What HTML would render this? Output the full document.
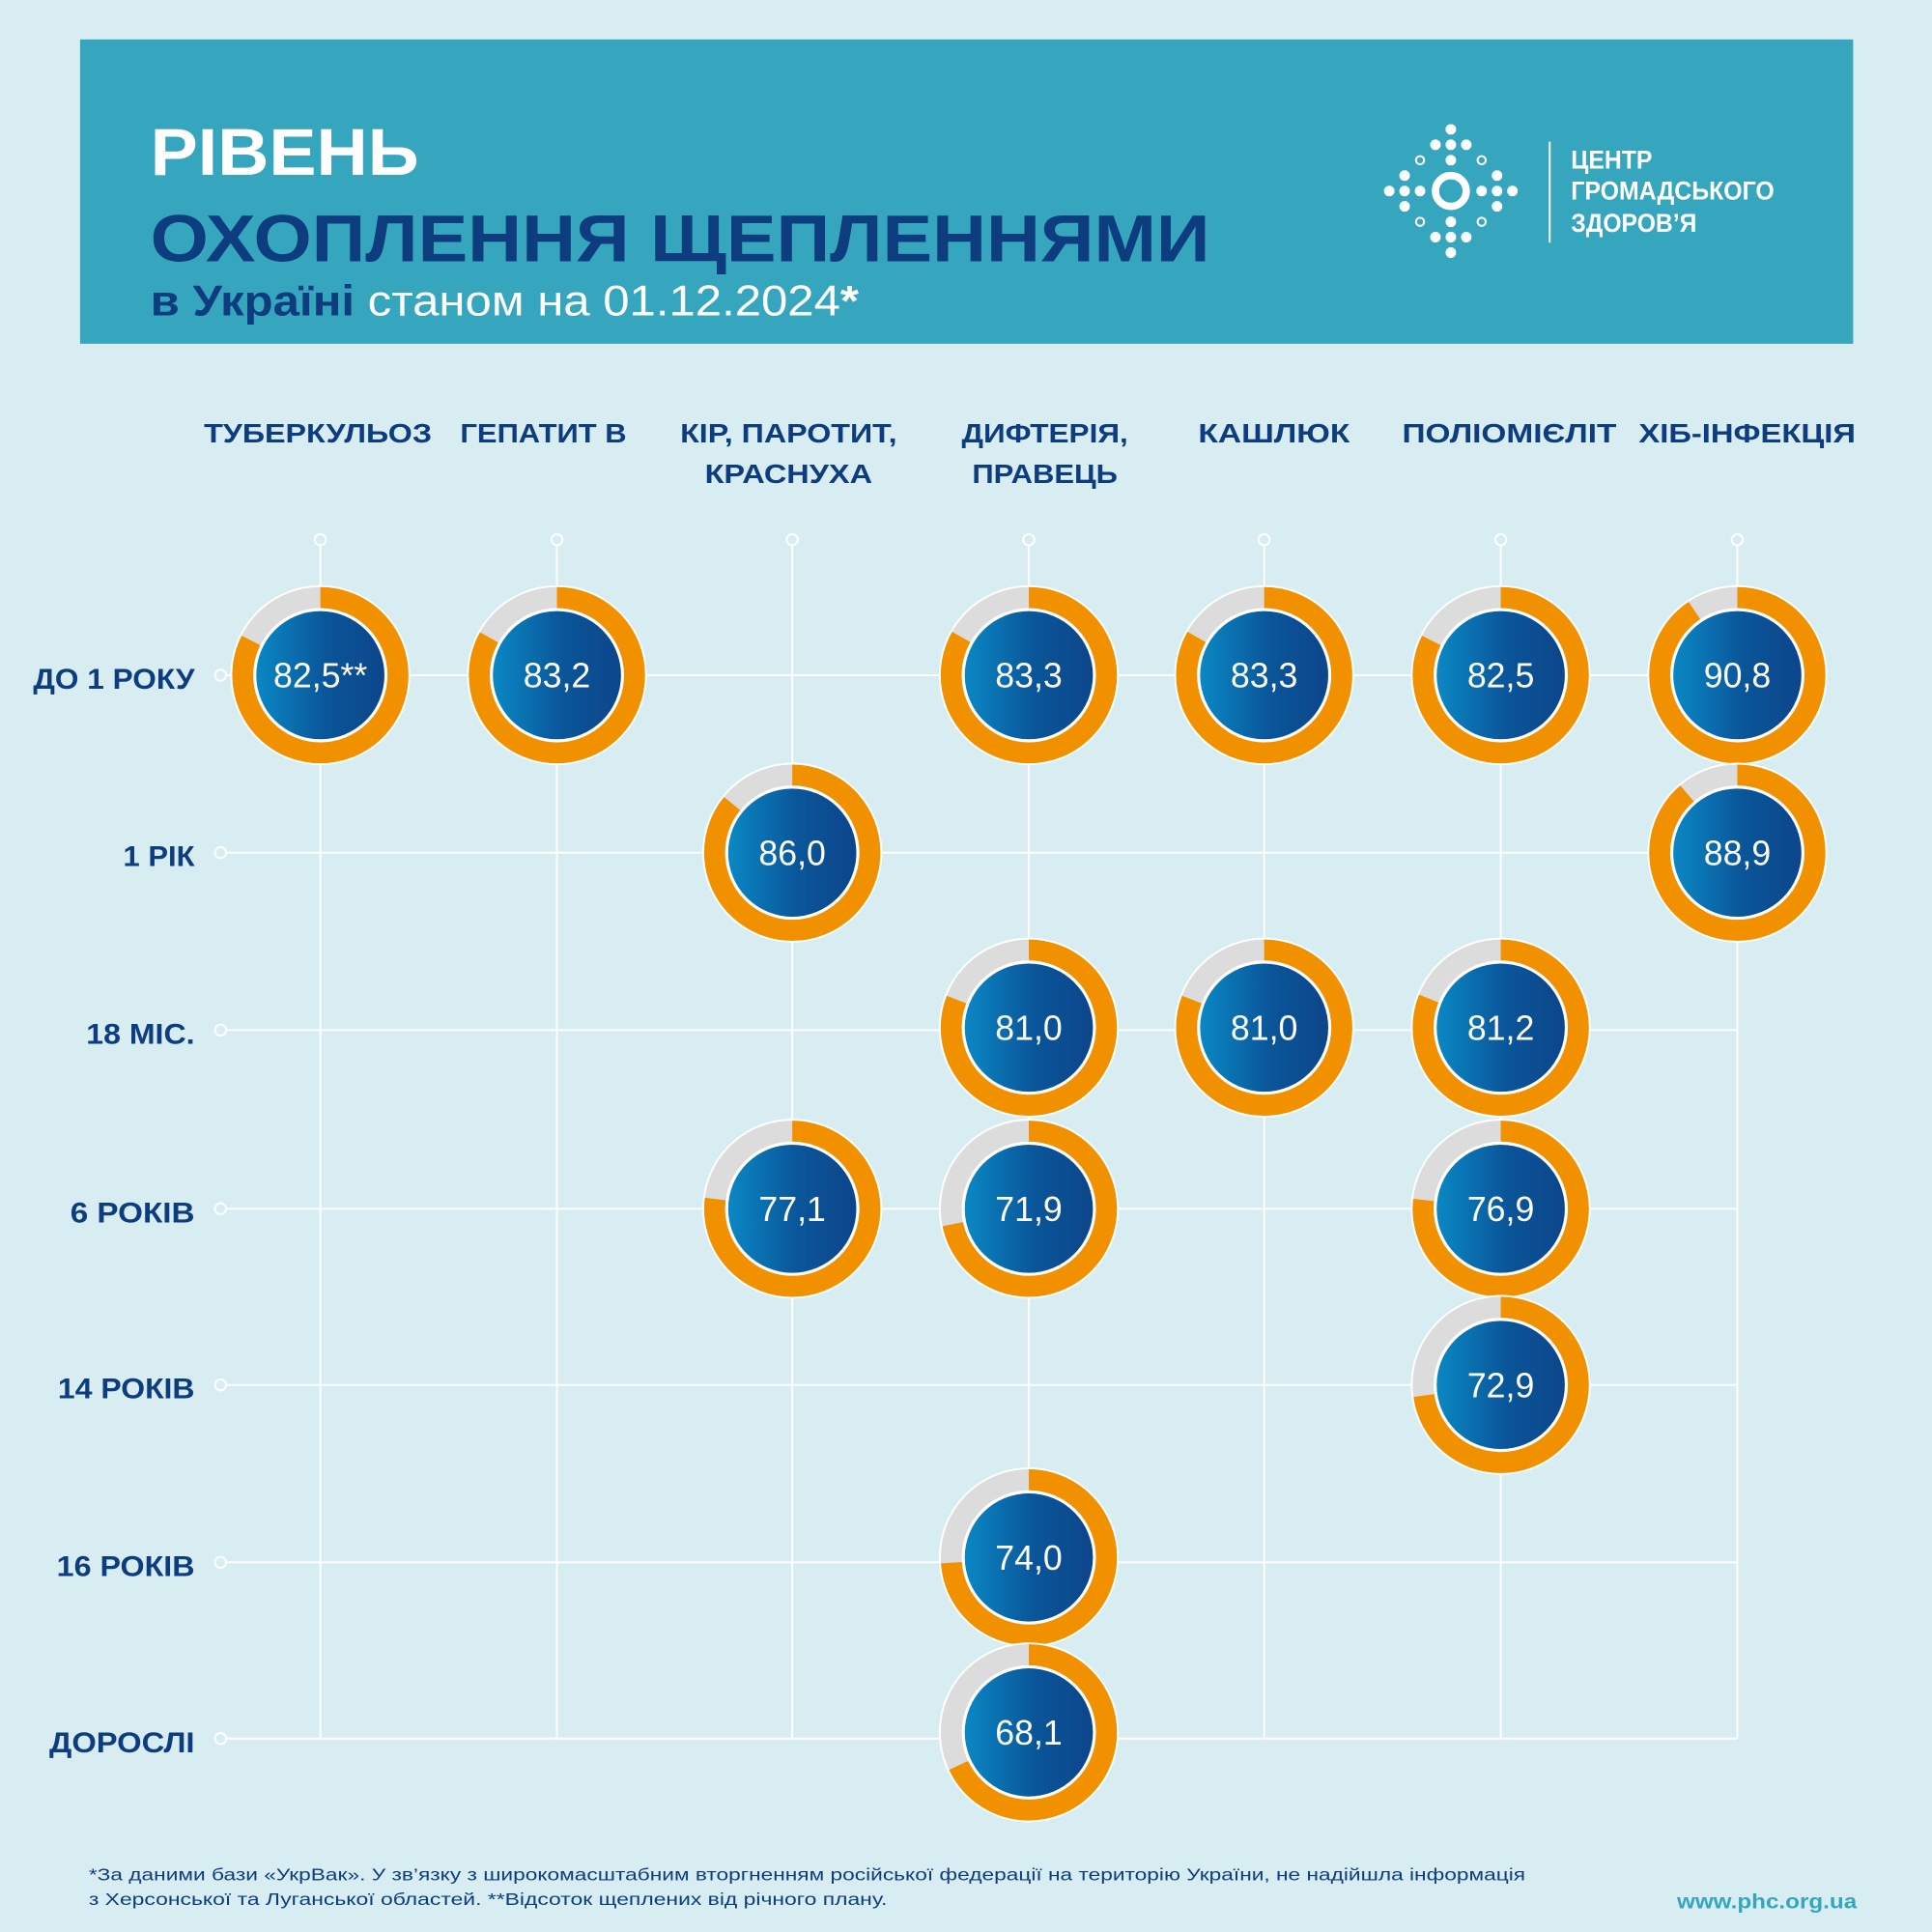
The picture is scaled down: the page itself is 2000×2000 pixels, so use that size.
<!DOCTYPE html>
<html><head><meta charset="utf-8"><style>html,body{margin:0;padding:0;background:#d7edf2}svg{display:block}</style></head>
<body>
<svg xmlns="http://www.w3.org/2000/svg" width="2000" height="2000" viewBox="0 0 1568 1568" font-family="'Liberation Sans', sans-serif">
<defs>
<linearGradient id="g" x1="0" x2="1" y1="0" y2="0"><stop offset="0" stop-color="#0a88c4"/><stop offset="0.55" stop-color="#0a5599"/><stop offset="1" stop-color="#0d458a"/></linearGradient>
<g id="hc"><circle r="4.5" fill="#d7edf2" stroke="#fff" stroke-width="1.6"/></g>
</defs>
<rect width="1568" height="1568" fill="#d7edf2"/>
<rect x="65" y="32" width="1439" height="247" fill="#36a6be"/>
<text x="122" y="142" font-size="54" font-weight="bold" fill="#fff" textLength="218" lengthAdjust="spacingAndGlyphs">РІВЕНЬ</text>
<text x="122" y="212" font-size="54" font-weight="bold" fill="#0d3c7f" textLength="860" lengthAdjust="spacingAndGlyphs">ОХОПЛЕННЯ ЩЕПЛЕННЯМИ</text>
<text x="122" y="256" font-size="35" fill="#fff" textLength="575" lengthAdjust="spacingAndGlyphs"><tspan font-weight="bold" fill="#0d3c7f">в Україні</tspan> станом на 01.12.2024<tspan font-weight="bold">*</tspan></text>
<!-- logo -->
<g fill="#fff" transform="translate(1177.5,155)">
<circle r="12.5" fill="none" stroke="#fff" stroke-width="6"/>
<g id="arm"><circle cx="0" cy="-50" r="4.3"/><circle cx="-12.5" cy="-37.5" r="4.3"/><circle cx="0" cy="-37.5" r="4.3"/><circle cx="12.5" cy="-37.5" r="4.3"/><circle cx="0" cy="-25" r="4.3"/></g>
<use href="#arm" transform="rotate(90)"/><use href="#arm" transform="rotate(180)"/><use href="#arm" transform="rotate(270)"/>
<g fill="none" stroke="#fff" stroke-width="1.6"><circle cx="-25" cy="-25" r="3.3"/><circle cx="25" cy="-25" r="3.3"/><circle cx="-25" cy="25" r="3.3"/><circle cx="25" cy="25" r="3.3"/></g>
</g>
<rect x="1257" y="115" width="1.5" height="82" fill="#fff"/>
<g font-size="21" font-weight="bold" fill="#fff"><text x="1275" y="137" textLength="66" lengthAdjust="spacingAndGlyphs">ЦЕНТР</text><text x="1275" y="162" textLength="165" lengthAdjust="spacingAndGlyphs">ГРОМАДСЬКОГО</text><text x="1275" y="188" textLength="102" lengthAdjust="spacingAndGlyphs">ЗДОРОВ’Я</text></g>
<!-- column headers -->
<g font-size="22" font-weight="bold" fill="#0d3c7f" text-anchor="middle">
<text x="258" y="359" textLength="185" lengthAdjust="spacingAndGlyphs">ТУБЕРКУЛЬОЗ</text>
<text x="441" y="359" textLength="135" lengthAdjust="spacingAndGlyphs">ГЕПАТИТ В</text>
<text x="640" y="359" textLength="176" lengthAdjust="spacingAndGlyphs">КІР, ПАРОТИТ,</text>
<text x="640" y="392" textLength="136" lengthAdjust="spacingAndGlyphs">КРАСНУХА</text>
<text x="848" y="359" textLength="135" lengthAdjust="spacingAndGlyphs">ДИФТЕРІЯ,</text>
<text x="848" y="392" textLength="118" lengthAdjust="spacingAndGlyphs">ПРАВЕЦЬ</text>
<text x="1034" y="359" textLength="123" lengthAdjust="spacingAndGlyphs">КАШЛЮК</text>
<text x="1225" y="359" textLength="174" lengthAdjust="spacingAndGlyphs">ПОЛІОМІЄЛІТ</text>
<text x="1418" y="359" textLength="176" lengthAdjust="spacingAndGlyphs">ХІБ-ІНФЕКЦІЯ</text>
</g>
<!-- row labels -->
<g font-size="23" font-weight="bold" fill="#0d3c7f" text-anchor="end">
<text x="158" y="559" textLength="131" lengthAdjust="spacingAndGlyphs">ДО 1 РОКУ</text>
<text x="158" y="703" textLength="58" lengthAdjust="spacingAndGlyphs">1 РІК</text>
<text x="158" y="847" textLength="88" lengthAdjust="spacingAndGlyphs">18 МІС.</text>
<text x="158" y="992" textLength="101" lengthAdjust="spacingAndGlyphs">6 РОКІВ</text>
<text x="158" y="1135" textLength="111" lengthAdjust="spacingAndGlyphs">14 РОКІВ</text>
<text x="158" y="1279" textLength="112" lengthAdjust="spacingAndGlyphs">16 РОКІВ</text>
<text x="158" y="1422" textLength="118" lengthAdjust="spacingAndGlyphs">ДОРОСЛІ</text>
</g>
<!-- grid -->
<g stroke="#fff" stroke-width="1.5">
<line x1="260" y1="443" x2="260" y2="1411"/><line x1="452" y1="443" x2="452" y2="1411"/><line x1="643" y1="443" x2="643" y2="1411"/><line x1="835" y1="443" x2="835" y2="1411"/><line x1="1026" y1="443" x2="1026" y2="1411"/><line x1="1218" y1="443" x2="1218" y2="1411"/><line x1="1410" y1="443" x2="1410" y2="1411"/>
<line x1="184" y1="548" x2="1410" y2="548"/><line x1="184" y1="692" x2="1410" y2="692"/><line x1="184" y1="836" x2="1410" y2="836"/><line x1="184" y1="981" x2="1410" y2="981"/><line x1="184" y1="1124" x2="1410" y2="1124"/><line x1="184" y1="1268" x2="1410" y2="1268"/><line x1="184" y1="1411" x2="1410" y2="1411"/>
</g>
<use href="#hc" x="260" y="438"/><use href="#hc" x="452" y="438"/><use href="#hc" x="643" y="438"/><use href="#hc" x="835" y="438"/><use href="#hc" x="1026" y="438"/><use href="#hc" x="1218" y="438"/><use href="#hc" x="1410" y="438"/>
<use href="#hc" x="179" y="548"/><use href="#hc" x="179" y="692"/><use href="#hc" x="179" y="836"/><use href="#hc" x="179" y="981"/><use href="#hc" x="179" y="1124"/><use href="#hc" x="179" y="1268"/><use href="#hc" x="179" y="1411"/>
<!-- donuts -->
<g font-size="28" fill="#fff" text-anchor="middle">
<g transform="translate(260,548)"><circle r="73" fill="#fff"/><circle r="63" fill="none" stroke="#dcdcdc" stroke-width="17"/><circle r="63" fill="none" stroke="#f29100" stroke-width="17" pathLength="100" stroke-dasharray="82.5 100" transform="rotate(-90)"/><circle r="54" fill="#fff"/><circle r="52" fill="url(#g)"/><text y="10">82,5**</text></g>
<g transform="translate(452,548)"><circle r="73" fill="#fff"/><circle r="63" fill="none" stroke="#dcdcdc" stroke-width="17"/><circle r="63" fill="none" stroke="#f29100" stroke-width="17" pathLength="100" stroke-dasharray="83.2 100" transform="rotate(-90)"/><circle r="54" fill="#fff"/><circle r="52" fill="url(#g)"/><text y="10">83,2</text></g>
<g transform="translate(835,548)"><circle r="73" fill="#fff"/><circle r="63" fill="none" stroke="#dcdcdc" stroke-width="17"/><circle r="63" fill="none" stroke="#f29100" stroke-width="17" pathLength="100" stroke-dasharray="83.3 100" transform="rotate(-90)"/><circle r="54" fill="#fff"/><circle r="52" fill="url(#g)"/><text y="10">83,3</text></g>
<g transform="translate(1026,548)"><circle r="73" fill="#fff"/><circle r="63" fill="none" stroke="#dcdcdc" stroke-width="17"/><circle r="63" fill="none" stroke="#f29100" stroke-width="17" pathLength="100" stroke-dasharray="83.3 100" transform="rotate(-90)"/><circle r="54" fill="#fff"/><circle r="52" fill="url(#g)"/><text y="10">83,3</text></g>
<g transform="translate(1218,548)"><circle r="73" fill="#fff"/><circle r="63" fill="none" stroke="#dcdcdc" stroke-width="17"/><circle r="63" fill="none" stroke="#f29100" stroke-width="17" pathLength="100" stroke-dasharray="82.5 100" transform="rotate(-90)"/><circle r="54" fill="#fff"/><circle r="52" fill="url(#g)"/><text y="10">82,5</text></g>
<g transform="translate(1410,548)"><circle r="73" fill="#fff"/><circle r="63" fill="none" stroke="#dcdcdc" stroke-width="17"/><circle r="63" fill="none" stroke="#f29100" stroke-width="17" pathLength="100" stroke-dasharray="90.8 100" transform="rotate(-90)"/><circle r="54" fill="#fff"/><circle r="52" fill="url(#g)"/><text y="10">90,8</text></g>
<g transform="translate(643,692)"><circle r="73" fill="#fff"/><circle r="63" fill="none" stroke="#dcdcdc" stroke-width="17"/><circle r="63" fill="none" stroke="#f29100" stroke-width="17" pathLength="100" stroke-dasharray="86 100" transform="rotate(-90)"/><circle r="54" fill="#fff"/><circle r="52" fill="url(#g)"/><text y="10">86,0</text></g>
<g transform="translate(1410,692)"><circle r="73" fill="#fff"/><circle r="63" fill="none" stroke="#dcdcdc" stroke-width="17"/><circle r="63" fill="none" stroke="#f29100" stroke-width="17" pathLength="100" stroke-dasharray="88.9 100" transform="rotate(-90)"/><circle r="54" fill="#fff"/><circle r="52" fill="url(#g)"/><text y="10">88,9</text></g>
<g transform="translate(835,834)"><circle r="73" fill="#fff"/><circle r="63" fill="none" stroke="#dcdcdc" stroke-width="17"/><circle r="63" fill="none" stroke="#f29100" stroke-width="17" pathLength="100" stroke-dasharray="81 100" transform="rotate(-90)"/><circle r="54" fill="#fff"/><circle r="52" fill="url(#g)"/><text y="10">81,0</text></g>
<g transform="translate(1026,834)"><circle r="73" fill="#fff"/><circle r="63" fill="none" stroke="#dcdcdc" stroke-width="17"/><circle r="63" fill="none" stroke="#f29100" stroke-width="17" pathLength="100" stroke-dasharray="81 100" transform="rotate(-90)"/><circle r="54" fill="#fff"/><circle r="52" fill="url(#g)"/><text y="10">81,0</text></g>
<g transform="translate(1218,834)"><circle r="73" fill="#fff"/><circle r="63" fill="none" stroke="#dcdcdc" stroke-width="17"/><circle r="63" fill="none" stroke="#f29100" stroke-width="17" pathLength="100" stroke-dasharray="81.2 100" transform="rotate(-90)"/><circle r="54" fill="#fff"/><circle r="52" fill="url(#g)"/><text y="10">81,2</text></g>
<g transform="translate(643,981)"><circle r="73" fill="#fff"/><circle r="63" fill="none" stroke="#dcdcdc" stroke-width="17"/><circle r="63" fill="none" stroke="#f29100" stroke-width="17" pathLength="100" stroke-dasharray="77.1 100" transform="rotate(-90)"/><circle r="54" fill="#fff"/><circle r="52" fill="url(#g)"/><text y="10">77,1</text></g>
<g transform="translate(835,981)"><circle r="73" fill="#fff"/><circle r="63" fill="none" stroke="#dcdcdc" stroke-width="17"/><circle r="63" fill="none" stroke="#f29100" stroke-width="17" pathLength="100" stroke-dasharray="71.9 100" transform="rotate(-90)"/><circle r="54" fill="#fff"/><circle r="52" fill="url(#g)"/><text y="10">71,9</text></g>
<g transform="translate(1218,981)"><circle r="73" fill="#fff"/><circle r="63" fill="none" stroke="#dcdcdc" stroke-width="17"/><circle r="63" fill="none" stroke="#f29100" stroke-width="17" pathLength="100" stroke-dasharray="76.9 100" transform="rotate(-90)"/><circle r="54" fill="#fff"/><circle r="52" fill="url(#g)"/><text y="10">76,9</text></g>
<g transform="translate(1218,1124)"><circle r="73" fill="#fff"/><circle r="63" fill="none" stroke="#dcdcdc" stroke-width="17"/><circle r="63" fill="none" stroke="#f29100" stroke-width="17" pathLength="100" stroke-dasharray="72.9 100" transform="rotate(-90)"/><circle r="54" fill="#fff"/><circle r="52" fill="url(#g)"/><text y="10">72,9</text></g>
<g transform="translate(835,1264)"><circle r="73" fill="#fff"/><circle r="63" fill="none" stroke="#dcdcdc" stroke-width="17"/><circle r="63" fill="none" stroke="#f29100" stroke-width="17" pathLength="100" stroke-dasharray="74 100" transform="rotate(-90)"/><circle r="54" fill="#fff"/><circle r="52" fill="url(#g)"/><text y="10">74,0</text></g>
<g transform="translate(835,1406)"><circle r="73" fill="#fff"/><circle r="63" fill="none" stroke="#dcdcdc" stroke-width="17"/><circle r="63" fill="none" stroke="#f29100" stroke-width="17" pathLength="100" stroke-dasharray="68.1 100" transform="rotate(-90)"/><circle r="54" fill="#fff"/><circle r="52" fill="url(#g)"/><text y="10">68,1</text></g>
</g>
<!-- footnote -->
<g font-size="14" fill="#0d3c7f">
<text x="72" y="1526" textLength="1166" lengthAdjust="spacingAndGlyphs">*За даними бази «УкрВак».  У зв’язку з широкомасштабним вторгненням російської федерації  на територію України, не надійшла інформація</text>
<text x="72" y="1546" textLength="648" lengthAdjust="spacingAndGlyphs">з Херсонської та Луганської областей.   **Відсоток щеплених від річного плану.</text>
</g>
<text x="1507" y="1549" font-size="17" font-weight="bold" fill="#36a6be" text-anchor="end" textLength="146" lengthAdjust="spacingAndGlyphs">www.phc.org.ua</text>
</svg>
</body></html>
